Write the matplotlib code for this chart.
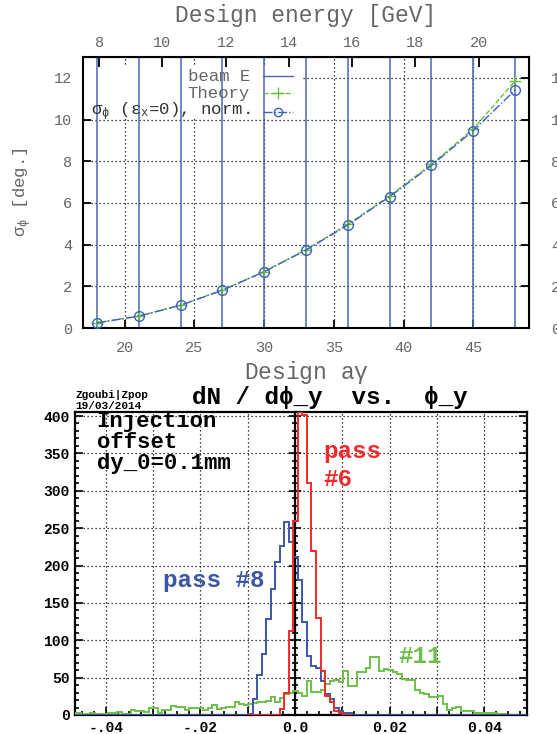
import numpy as np
import matplotlib.pyplot as plt
from matplotlib.patches import Rectangle
from matplotlib.ticker import MultipleLocator

plt.rcParams['font.family'] = ['Liberation Mono', 'DejaVu Sans Mono']
plt.rcParams['mathtext.fontset'] = 'custom'
plt.rcParams['mathtext.rm'] = 'Liberation Mono'
plt.rcParams['mathtext.it'] = 'Liberation Mono'

# ---- top panel: spin phase spread vs design a*gamma
agamma = [18, 21, 24, 27, 30, 33, 36, 39, 42, 45, 48]
sig_phi = [0.25, 0.57, 1.09, 1.81, 2.70, 3.74, 4.94, 6.30, 7.80, 9.47, 11.41]
sig_theory = [0.25, 0.57, 1.10, 1.82, 2.71, 3.76, 4.97, 6.34, 7.85, 9.55, 11.85]
gev_per_agamma = 0.4406  # electrons: E = a*gamma * m_e / a_e
energy_ticks = [8, 10, 12, 14, 16, 18, 20]

# ---- bottom panel: dN/dphi_y histograms, 100 bins
phi_lo, phi_hi, nbins = -0.0462, 0.0493, 100
green_11 = [3, 1, 1, 3, 1, 1, 1, 3, 3, 4, 1, 1, 7, 5, 5, 4, 9, 9, 2, 7,
            7, 12, 11, 11, 7, 10, 9, 9, 7, 10, 14, 8, 10, 11, 11, 17, 15, 14, 15, 16,
            17, 17, 19, 24, 18, 23, 28, 30, 32, 30, 26, 45, 31, 31, 34, 41, 45, 47, 44, 59,
            39, 39, 57, 58, 63, 78, 78, 59, 61, 60, 58, 55, 48, 47, 47, 34, 30, 28, 24, 24,
            26, 15, 7, 10, 11, 6, 6, 6, 2, 2, 3, 3, 3, 1, 1, 0, 0, 0, 0, 0]
blue_8 = [0] * 38 + [1, 22, 53, 82, 128, 168, 205, 226, 258, 232,
                     211, 180, 124, 79, 66, 63, 45, 28, 22, 10,
                     6, 3, 2] + [0] * 39
red_first = 38
red_6 = [0, 0, 0, 0, 0, 0, 0, 8, 30, 112, 260, 405, 401, 310, 220, 130,
         59, 26, 17, 6, 2, 0, 0]

GRAY = '#666666'
BLUE = '#3f5fc0'
VLINE = '#4a66b4'
GREEN = '#66c43a'
RED = '#f22a2a'
BLUE8 = '#3b57a6'
GREEN11 = '#6cc04a'
dots = (0, (1, 2.2))

fig = plt.figure(figsize=(5.57, 7.34), dpi=100)

# ================= top panel
ax1 = fig.add_axes([0.149, 0.5531, 0.8007, 0.3692])
ax1.set_xlim(17, 49)
ax1.set_ylim(0, 13)
ax1.set_axisbelow(True)
ax1.set_xticks(range(20, 50, 5))
ax1.set_yticks(range(0, 13, 2))
ax1.grid(True, ls=dots, color='k', lw=0.9)
for s in ax1.spines.values():
    s.set_linewidth(1.5)
ax1.tick_params(direction='in', length=6, width=1.3, labelsize=11, labelcolor=GRAY,
                top=False, right=False, pad=9)
ax1.tick_params(axis='y', pad=8)

ax1.vlines(agamma, 0, 1, transform=ax1.get_xaxis_transform(), color=VLINE, lw=1.1, zorder=2)
ax1.plot(agamma, sig_theory, ls='--', color=GREEN, marker='+', ms=8, lw=1, zorder=3)
ax1.plot(agamma, sig_phi, ls='-.', color=BLUE, marker='o', mfc='none', ms=7, mew=1, lw=1, zorder=4)

# key, gnuplot style: labels right-aligned, samples on the right, opaque box
ax1.add_patch(Rectangle((0, 0.771), 0.493, 0.192, transform=ax1.transAxes,
                        fc='white', ec='none', zorder=1))
key_y = [0.930, 0.866, 0.798]
key_lab = ['beam E', 'Theory', r'$\sigma_\phi$ ($\epsilon_x$=0), norm.']
key_sty = [dict(color=VLINE, ls='-'),
           dict(color=GREEN, ls='--', marker='+', ms=8, markevery=[1]),
           dict(color=BLUE, ls='-.', marker='o', mfc='none', ms=6, markevery=[1])]
for y, lab, sty in zip(key_y, key_lab, key_sty):
    ax1.text(0.3744, y, lab, transform=ax1.transAxes, ha='right', va='center',
             fontsize=12.5, color=GRAY if y > 0.8 else '#333333', zorder=5)
    ax1.plot([0.4036, 0.437, 0.4709], [y, y, y], transform=ax1.transAxes, lw=1,
             zorder=5, **sty)

ax1.set_xlabel(r'Design a$\gamma$', fontsize=16.5, color=GRAY, labelpad=3)
ax1.set_ylabel(r'$\sigma_\phi$ [deg.]', fontsize=12.5, color=GRAY, labelpad=14)

top = ax1.secondary_xaxis('top', functions=(lambda a: a * gev_per_agamma,
                                            lambda e: e / gev_per_agamma))
top.set_xticks(energy_ticks)
top.tick_params(direction='in', length=7, width=1.3, labelsize=11, labelcolor=GRAY, pad=5)
top.set_xlabel('Design energy [GeV]', fontsize=16.5, color=GRAY, labelpad=10)

rgt = ax1.secondary_yaxis('right')
rgt.set_yticks(range(0, 13, 2))
rgt.tick_params(direction='in', length=6, width=1.3, labelsize=11, labelcolor=GRAY, pad=16)

# ================= bottom panel
edges = np.linspace(phi_lo, phi_hi, nbins + 1)
ax2 = fig.add_axes([0.1347, 0.0259, 0.8115, 0.4124])
xmin, xmax = -0.0465, 0.049
ax2.set_xlim(xmin, xmax)
ax2.set_ylim(0, 405)
ax2.set_axisbelow(True)
ax2.grid(True, ls=dots, color='k', lw=0.9)
for s in ax2.spines.values():
    s.set_linewidth(1.6)

ax2.stairs(green_11, edges, color=GREEN11, lw=1.4, zorder=3)
ax2.stairs(blue_8, edges, color=BLUE8, lw=1.4, zorder=4)
ax2.stairs(red_6, edges[red_first:red_first + len(red_6) + 1], color=RED, lw=1.4, zorder=5)

ax2.set_xticks(np.arange(-0.04, 0.0401, 0.01))
ax2.set_xticklabels(['-.04', '', '-.02', '', '0.0', '', '0.02', '', '0.04'])
ax2.xaxis.set_minor_locator(MultipleLocator(0.0025))
ax2.set_yticks(range(0, 401, 50))
ax2.yaxis.set_minor_locator(MultipleLocator(10))
ax2.tick_params(which='both', direction='in', right=True, width=1.2)
ax2.tick_params(which='major', length=6, labelsize=10.5, pad=4)
ax2.tick_params(which='minor', length=3)
for t in ax2.get_xticklabels() + ax2.get_yticklabels():
    t.set_fontweight('bold')

# zero axis with its own ticks
zero = ax2.secondary_yaxis((0 - xmin) / (xmax - xmin))
zero.set_yticks(range(0, 401, 50))
zero.yaxis.set_minor_locator(MultipleLocator(10))
zero.tick_params(which='both', direction='inout', labelleft=False, labelright=False, width=1.2)
zero.tick_params(which='major', length=8)
zero.tick_params(which='minor', length=5)
zero.spines['left'].set_linewidth(1.6)

fig.text(75 / 557, 1 - 398 / 734, 'Zgoubi|Zpop', fontsize=8, weight='bold')
fig.text(75 / 557, 1 - 409 / 734, '19/03/2014', fontsize=8, weight='bold')
fig.text(191.7 / 557, 1 - 404 / 734, 'dN / d\u03d5_y  vs.  \u03d5_y', fontsize=17.5,
         weight='bold', va='baseline')
for y, line in zip([427, 448.5, 469], ['Injection', 'offset', 'dy_0=0.1mm']):
    fig.text(96.7 / 557, 1 - y / 734, line, fontsize=16, weight='bold', va='baseline')
fig.text(323 / 557, 1 - 458 / 734, 'pass', fontsize=17.5, weight='bold', color=RED, va='baseline')
fig.text(323 / 557, 1 - 486 / 734, '#6', fontsize=17.5, weight='bold', color=RED, va='baseline')
fig.text(163 / 557, 1 - 587 / 734, 'pass #8', fontsize=17.5, weight='bold', color=BLUE8, va='baseline')
fig.text(398 / 557, 1 - 663 / 734, '#11', fontsize=17.5, weight='bold', color=GREEN11, va='baseline')

fig.savefig('out.png', dpi=100)
